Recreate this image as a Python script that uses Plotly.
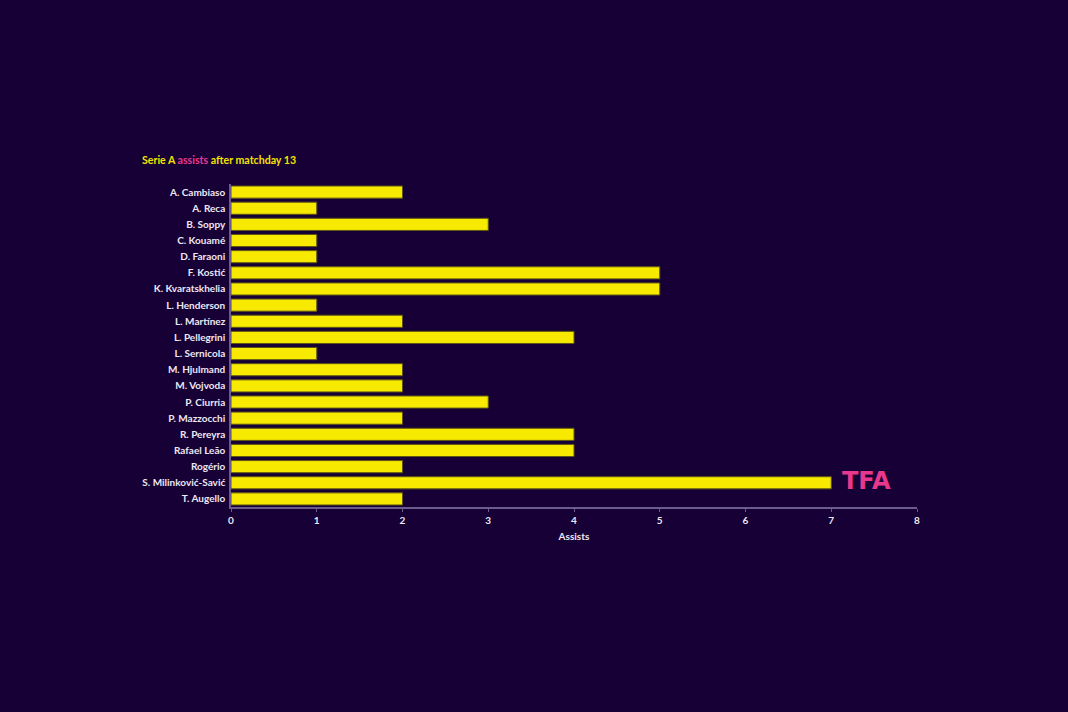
import plotly.graph_objects as go

players = ["A. Cambiaso", "A. Reca", "B. Soppy", "C. Kouamé", "D. Faraoni", "F. Kostić",
           "K. Kvaratskhelia", "L. Henderson", "L. Martínez", "L. Pellegrini", "L. Sernicola",
           "M. Hjulmand", "M. Vojvoda", "P. Ciurria", "P. Mazzocchi", "R. Pereyra",
           "Rafael Leão", "Rogério", "S. Milinković-Savić", "T. Augello"]
assists = [2, 1, 3, 1, 1, 5, 5, 1, 2, 4, 1, 2, 2, 3, 2, 4, 4, 2, 7, 2]
x_ticks = [0, 1, 2, 3, 4, 5, 6, 7, 8]

BG = "#170035"
FONT = "Lato"

fig = go.Figure(go.Bar(
    x=assists, y=players, orientation="h",
    marker=dict(color="#f7ea00", line=dict(color="#5e5712", width=1)),
    hoverinfo="x+y",
))

fig.update_layout(
    width=1068, height=712,
    paper_bgcolor=BG, plot_bgcolor=BG,
    margin=dict(l=231, r=151, t=184, b=205),
    bargap=0.25,
    showlegend=False,
    font=dict(family=FONT, color="#ece8f4", size=10),
    xaxis=dict(
        range=[0, 8], tickvals=x_ticks, showgrid=False, zeroline=False,
        showline=True, linecolor="#6a5c8c", linewidth=1.5,
        ticks="outside", ticklen=3, tickcolor="#6a5c8c",
        tickfont=dict(family=FONT, size=10, color="#ece8f4", weight="bold"),
        title=dict(text="<b>Assists</b>", font=dict(family=FONT, size=10, color="#ece8f4"), standoff=8),
    ),
    yaxis=dict(
        autorange="reversed", showgrid=False, zeroline=False,
        showline=True, linecolor="#6a5c8c", linewidth=1.5, ticks="",
        tickfont=dict(family=FONT, size=10, color="#ece8f4", weight="bold"),
        ticklabelstandoff=2,
    ),
    annotations=[
        dict(text="<b>Serie A <span style='color:#e8388e'>assists</span> after matchday 13</b>",
             xref="paper", yref="paper", x=-0.133, y=1.05, xanchor="left", yanchor="bottom",
             showarrow=False, font=dict(family=FONT, size=10.6, color="#f2e400")),
        dict(text="<b>TFA</b>", xref="paper", yref="paper", x=0.926, y=0.081,
             xanchor="center", yanchor="middle", showarrow=False,
             font=dict(family="DejaVu Sans", size=24, color="#e8388e")),
    ],
)

fig.write_html("out.html", config={"displayModeBar": False},
               post_script="document.body.style.margin='0';")
